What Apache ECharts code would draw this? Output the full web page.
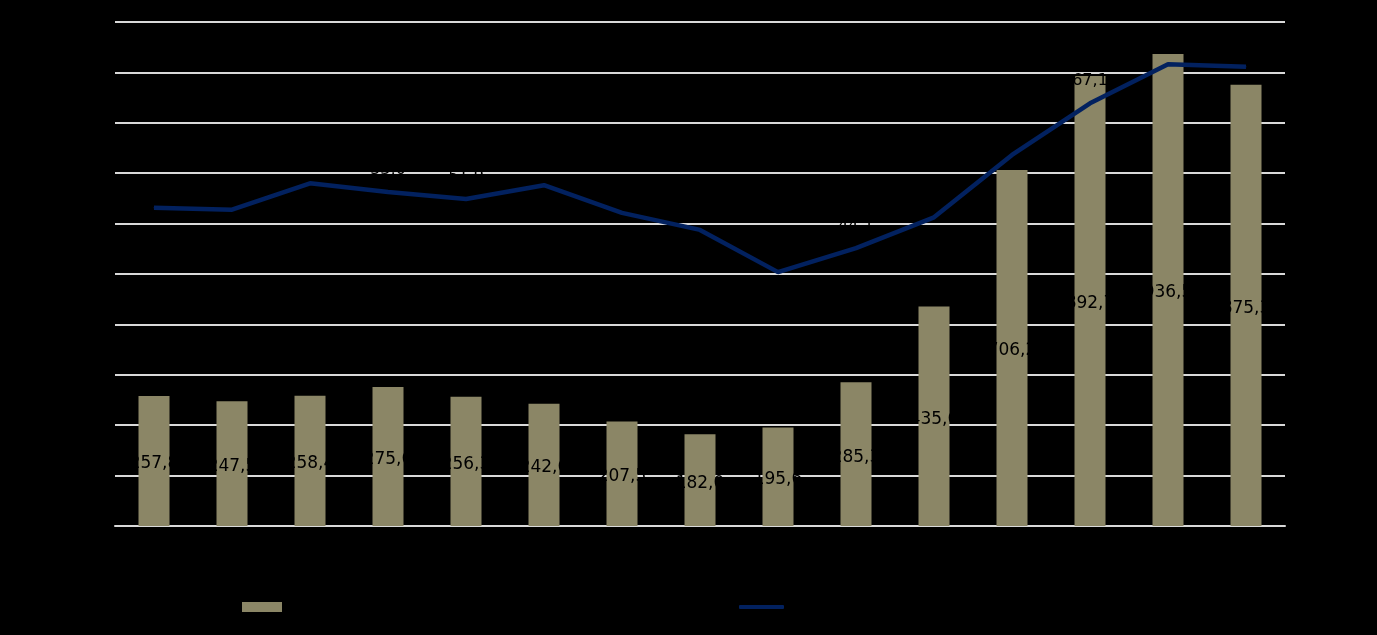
<!DOCTYPE html>
<html>
<head>
<meta charset="utf-8">
<script src="https://cdn.jsdelivr.net/npm/echarts@6/dist/echarts.min.js"></script>
<style>
html,body{margin:0;padding:0;background:#000;}
#c{width:1377px;height:635px;}
</style>
</head>
<body>
<div id="c"></div>
<script>
const categories = ['2008','2009','2010','2011','2012','2013','2014','2015','2016','2017','2018','2019','2020','2021','2022'];
const barValues = [257.8, 247.5, 258.4, 275.6, 256.3, 242.6, 207.5, 182.0, 195.6, 285.3, 435.6, 706.2, 892.7, 936.5, 875.3];
const lineValues = [50.5, 50.2, 54.4, 53.0, 51.9, 54.1, 49.7, 47.0, 40.3, 44.1, 49.0, 58.9, 67.1, 73.3, 72.9];
const barName = 'Объём';
const lineName = 'Доля';

const fmt = v => v.toFixed(1).replace('.', ',');
const chart = echarts.init(document.getElementById('c'));
chart.setOption({
  backgroundColor: '#000',
  animation: false,
  textStyle: { fontFamily: 'DejaVu Sans' },
  grid: { left: 115, right: 92, top: 22, bottom: 109 },
  legend: [
    { data: [{ name: barName, icon: 'rect' }], left: 237, top: 594, itemWidth: 40, itemHeight: 10,
      textStyle: { color: '#000', fontSize: 16 } },
    { data: [{ name: lineName, icon: 'roundRect' }], left: 734, top: 594, itemWidth: 45, itemHeight: 4,
      itemStyle: { color: '#02215F', borderWidth: 0 }, lineStyle: { width: 0 },
      textStyle: { color: '#000', fontSize: 16 } }
  ],
  xAxis: {
    type: 'category',
    data: categories,
    axisLine: { lineStyle: { color: '#d9d9d9', width: 2 } },
    axisTick: { show: false },
    axisLabel: { color: '#000', fontSize: 16 }
  },
  yAxis: [
    {
      type: 'value', min: 0, max: 1000, interval: 100,
      axisLine: { show: false }, axisTick: { show: false },
      axisLabel: { color: '#000', fontSize: 16 },
      splitLine: { lineStyle: { color: '#d9d9d9', width: 2 } }
    },
    {
      type: 'value', min: 0, max: 80, interval: 8,
      axisLine: { show: false }, axisTick: { show: false },
      axisLabel: { color: '#000', fontSize: 16 },
      splitLine: { show: false }
    }
  ],
  series: [
    {
      name: barName, type: 'bar', data: barValues, barWidth: 31,
      itemStyle: { color: '#8B8666' },
      label: { show: true, position: 'inside', offset: [0, 3], color: '#000', fontSize: 17, formatter: p => fmt(p.value) }
    },
    {
      name: lineName, type: 'line', yAxisIndex: 1, data: lineValues,
      symbol: 'circle', symbolSize: 1,
      itemStyle: { color: '#02215F' },
      lineStyle: { color: '#02215F', width: 4.5 },
      label: { show: true, position: 'top', distance: 14, color: '#000', fontSize: 16, formatter: p => fmt(p.value) }
    }
  ]
});
</script>
</body>
</html>
